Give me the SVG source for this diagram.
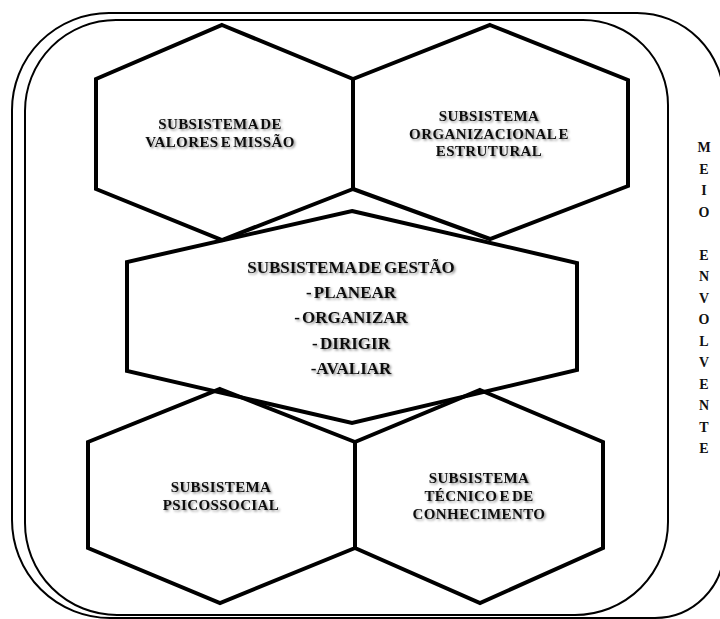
<svg xmlns="http://www.w3.org/2000/svg" width="720" height="619" viewBox="0 0 720 619">
<defs>
<style>
.frame{fill:none;stroke:#000;stroke-width:2}
.hex{fill:none;stroke:#000;stroke-width:4;stroke-linejoin:miter}
.lbl{font-family:"Liberation Serif","Times New Roman",serif;font-weight:bold;font-size:15px;letter-spacing:0.4px;text-anchor:middle;fill:#111;word-spacing:-2px;filter:url(#sh)}
.mid{font-size:17px;letter-spacing:0}
.vt{font-family:"Liberation Serif","Times New Roman",serif;font-weight:bold;font-size:14px;text-anchor:middle;fill:#111}
</style>
<filter id="sh" x="-10%" y="-30%" width="120%" height="160%">
<feDropShadow dx="1.5" dy="1.5" stdDeviation="1" flood-color="#000" flood-opacity="0.45"/>
</filter>
</defs>
<rect width="720" height="619" fill="#fff"/>
<g id="frames">
<path class="frame" d="M109,13 H637 A87,87 0 0 1 724,100 V549 A69,69 0 0 1 655,618 H110 A98,98 0 0 1 12,520 V110 A97,97 0 0 1 109,13 Z"/>
<path class="frame" d="M116,20 H583 A85,85 0 0 1 668,105 V522 A93,93 0 0 1 575,615 H117 A92,92 0 0 1 25,523 V111 A91,91 0 0 1 116,20 Z"/>
</g>
<g id="node-valores">
<polygon class="hex" points="222,25 353,79 353,189 222,240 96,189 96,79"/>
<text class="lbl" x="220" y="129">SUBSISTEMA DE</text>
<text class="lbl" x="220" y="146.5">VALORES E MISSÃO</text>
</g>
<g id="node-organizacional">
<polygon class="hex" points="490,25 628,80 628,186 490,239 353,189 353,79"/>
<text class="lbl" x="489" y="121">SUBSISTEMA</text>
<text class="lbl" x="489" y="138.5">ORGANIZACIONAL E</text>
<text class="lbl" x="489" y="156">ESTRUTURAL</text>
</g>
<g id="node-psicossocial">
<polygon class="hex" points="220,389 355,442 355,548 220,603 88,548 88,442"/>
<text class="lbl" x="221" y="492">SUBSISTEMA</text>
<text class="lbl" x="221" y="509.5">PSICOSSOCIAL</text>
</g>
<g id="node-tecnico">
<polygon class="hex" points="480,390 603,442 603,548 480,603 355,548 355,442"/>
<text class="lbl" x="479" y="483">SUBSISTEMA</text>
<text class="lbl" x="479" y="501">TÉCNICO E DE</text>
<text class="lbl" x="479" y="519">CONHECIMENTO</text>
</g>
<g id="node-gestao">
<polygon class="hex" points="352,211 577,263 577,370 352,423 127,371 127,262"/>
<text class="lbl mid" x="351" y="273">SUBSISTEMA DE GESTÃO</text>
<text class="lbl mid" x="351" y="298">- PLANEAR</text>
<text class="lbl mid" x="351" y="323">- ORGANIZAR</text>
<text class="lbl mid" x="351" y="349">- DIRIGIR</text>
<text class="lbl mid" x="351" y="374">-AVALIAR</text>
</g>
<g id="meio-envolvente">
<text class="vt" x="704" y="152">M</text>
<text class="vt" x="704" y="173.5">E</text>
<text class="vt" x="704" y="195">I</text>
<text class="vt" x="704" y="216.5">O</text>
<text class="vt" x="704" y="259.5">E</text>
<text class="vt" x="704" y="281">N</text>
<text class="vt" x="704" y="302.5">V</text>
<text class="vt" x="704" y="324">O</text>
<text class="vt" x="704" y="345.5">L</text>
<text class="vt" x="704" y="367">V</text>
<text class="vt" x="704" y="388.5">E</text>
<text class="vt" x="704" y="410">N</text>
<text class="vt" x="704" y="431.5">T</text>
<text class="vt" x="704" y="453">E</text>
</g>
<g id="connectors"></g>
</svg>
